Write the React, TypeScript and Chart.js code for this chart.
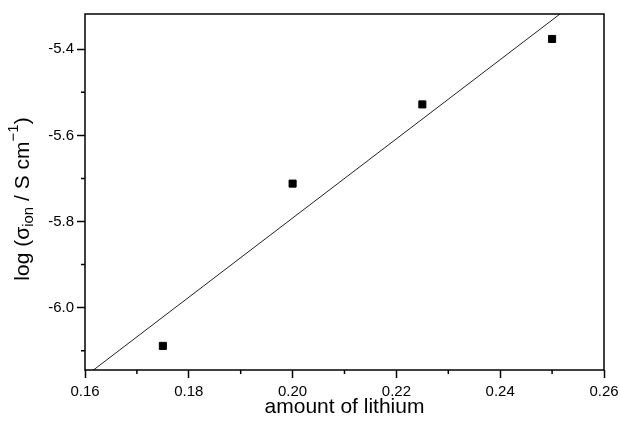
import { useEffect, useRef } from "react";
import { Chart, registerables } from "chart.js";

Chart.register(...registerables);

// Measured conductivity vs. lithium content
const lithium = [0.175, 0.2, 0.225, 0.25];
const logSigma = [-6.089, -5.712, -5.528, -5.376];

// Linear fit line end points
const fitX = [0.16, 0.26];
const fitY = [-6.16, -5.24];

// Axis ticks
const xTicks = [0.16, 0.18, 0.2, 0.22, 0.24, 0.26];
const xMinor = [0.17, 0.19, 0.21, 0.23, 0.25];
const yTicks = [-6.0, -5.8, -5.6, -5.4];
const yMinor = [-6.1, -5.9, -5.7, -5.5];

const FONT = "'Liberation Sans', Arial, Helvetica, sans-serif";

const framePlugin = {
  id: "frame",
  afterDraw(chart: any) {
    const { ctx, chartArea } = chart;
    const xs = chart.scales.x;
    const ys = chart.scales.y;
    ctx.save();
    ctx.strokeStyle = "#000";
    ctx.lineWidth = 1.5;
    ctx.strokeRect(chartArea.left, chartArea.top, chartArea.right - chartArea.left, chartArea.bottom - chartArea.top);

    // minor ticks
    ctx.beginPath();
    xMinor.forEach((v) => {
      const px = xs.getPixelForValue(v);
      ctx.moveTo(px, chartArea.bottom);
      ctx.lineTo(px, chartArea.bottom + 4);
    });
    yMinor.forEach((v) => {
      const py = ys.getPixelForValue(v);
      ctx.moveTo(chartArea.left, py);
      ctx.lineTo(chartArea.left - 4, py);
    });
    ctx.stroke();

    // y axis title with subscript and superscript
    const cx = 23;
    const cy = (chartArea.top + chartArea.bottom) / 2 + 7;
    const big = `21px ${FONT}`;
    const small = `15px ${FONT}`;
    const parts: { t: string; f: string; dy: number }[] = [
      { t: "log (σ", f: big, dy: 0 },
      { t: "ion", f: small, dy: 6 },
      { t: " / S cm", f: big, dy: 0 },
      { t: "−1", f: small, dy: -9 },
      { t: ")", f: big, dy: 0 },
    ];
    let total = 0;
    parts.forEach((p) => {
      ctx.font = p.f;
      total += ctx.measureText(p.t).width;
    });
    ctx.translate(cx, cy);
    ctx.rotate(-Math.PI / 2);
    ctx.fillStyle = "#000";
    ctx.textBaseline = "middle";
    ctx.textAlign = "left";
    let x = -total / 2;
    parts.forEach((p) => {
      ctx.font = p.f;
      ctx.fillText(p.t, x, p.dy);
      x += ctx.measureText(p.t).width;
    });
    ctx.restore();
  },
};

export default function App() {
  const canvasRef = useRef<HTMLCanvasElement | null>(null);

  useEffect(() => {
    document.body.style.margin = "0";
    const canvas = canvasRef.current;
    if (!canvas) return;
    const chart = new Chart(canvas, {
      type: "scatter",
      data: {
        datasets: [
          {
            type: "line",
            data: fitX.map((x, i) => ({ x, y: fitY[i] })),
            borderColor: "#222",
            borderWidth: 1,
            pointRadius: 0,
            fill: false,
          },
          {
            data: lithium.map((x, i) => ({ x, y: logSigma[i] })),
            pointStyle: "rect",
            pointRadius: 5,
            borderWidth: 1,
            backgroundColor: "#000",
            borderColor: "#000",
          },
        ],
      },
      options: {
        animation: false,
        responsive: true,
        maintainAspectRatio: false,
        layout: { padding: { top: 14, right: 16, left: 0, bottom: 0 } },
        plugins: {
          legend: { display: false },
          tooltip: { enabled: false },
        },
        scales: {
          x: {
            type: "linear",
            min: 0.16,
            max: 0.26,
            afterBuildTicks: (scale: any) => {
              scale.ticks = xTicks.map((value) => ({ value }));
            },
            afterFit: (scale: any) => {
              scale.height = 55;
              scale.paddingLeft = 0;
              scale.paddingRight = 0;
            },
            border: { display: false },
            grid: {
              drawOnChartArea: false,
              drawTicks: true,
              tickLength: 8,
              tickWidth: 1.5,
              tickColor: "#000",
            },
            ticks: {
              color: "#000",
              padding: 5,
              font: { family: FONT, size: 15 },
              callback: (v: any) => Number(v).toFixed(2),
            },
            title: {
              display: true,
              text: "amount of lithium",
              color: "#000",
              font: { family: FONT, size: 21 },
              padding: { top: 0, bottom: 5 },
            },
          },
          y: {
            type: "linear",
            min: -6.145,
            max: -5.318,
            afterBuildTicks: (scale: any) => {
              scale.ticks = yTicks.map((value) => ({ value }));
            },
            afterFit: (scale: any) => {
              scale.width = 85;
              scale.paddingTop = 0;
              scale.paddingBottom = 0;
            },
            border: { display: false },
            grid: {
              drawOnChartArea: false,
              drawTicks: true,
              tickLength: 8,
              tickWidth: 1.5,
              tickColor: "#000",
            },
            ticks: {
              color: "#000",
              padding: 3,
              font: { family: FONT, size: 15 },
              callback: (v: any) => Number(v).toFixed(1),
            },
          },
        },
      },
      plugins: [framePlugin],
    } as any);
    return () => chart.destroy();
  }, []);

  return (
    <div style={{ position: "relative", width: 620, height: 425, background: "#fff" }}>
      <canvas ref={canvasRef} />
    </div>
  );
}
